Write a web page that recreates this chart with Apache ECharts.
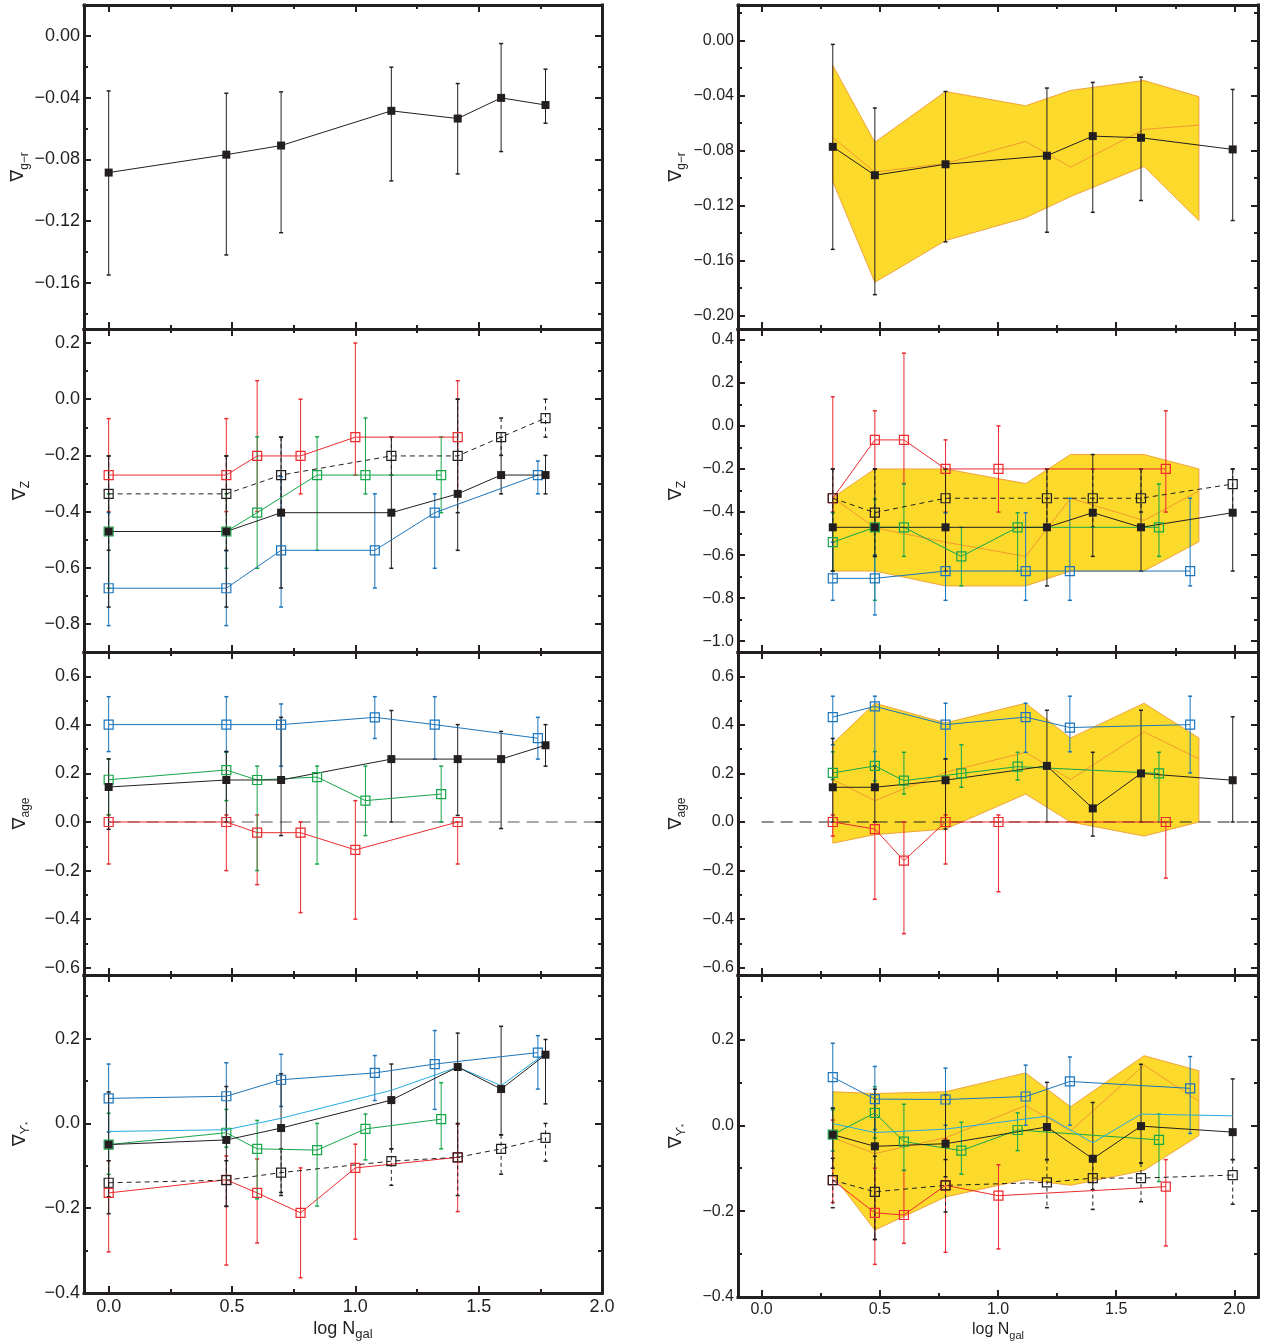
<!DOCTYPE html>
<html><head><meta charset="utf-8">
<script src="https://cdn.jsdelivr.net/npm/echarts@6/dist/echarts.min.js"></script>
<style>html,body{margin:0;padding:0;background:#fff}#c{width:1272px;height:1342px}</style>
</head><body><div id="c"></div>
<script>
// ---------------- DATA ----------------
// x positions (log N_gal)
const LX_BLK = [0, 0.477, 0.699, 1.146, 1.415, 1.591, 1.771];
const LX_RED = [0, 0.477, 0.602, 0.778, 1.0, 1.415];
const LX_GRN = [0, 0.477, 0.602, 0.845, 1.041, 1.348];
const LX_BLU = [0, 0.477, 0.699, 1.079, 1.322, 1.740];
const RX_BLK = [0.301, 0.479, 0.778, 1.207, 1.401, 1.605, 1.993];
const RX_RED = [0.301, 0.479, 0.602, 0.778, 1.002, 1.710];
const RX_GRN = [0.301, 0.479, 0.602, 0.845, 1.083, 1.681];
const RX_BLU = [0.301, 0.479, 0.778, 1.117, 1.304, 1.813];
const RX_BAND = [0.301, 0.479, 0.778, 1.117, 1.307, 1.618, 1.850];
const ZERO_LX = [0, 2.0];
const ZERO_RX = [0, 2.07];

// axis tick values
const X_MAJOR = [0, 0.5, 1.0, 1.5, 2.0];
const X_MINOR = [0.25, 0.75, 1.25, 1.75];
const L1_YMAJ = [0, -0.04, -0.08, -0.12, -0.16];
const R1_YMAJ = [0, -0.04, -0.08, -0.12, -0.16, -0.20];
const P1_YMIN = [0.02, -0.02, -0.06, -0.10, -0.14, -0.18];
const L2_YMAJ = [0.2, 0, -0.2, -0.4, -0.6, -0.8];
const L2_YMIN = [0.1, -0.1, -0.3, -0.5, -0.7];
const R2_YMAJ = [0.4, 0.2, 0, -0.2, -0.4, -0.6, -0.8, -1.0];
const R2_YMIN = [0.3, 0.1, -0.1, -0.3, -0.5, -0.7, -0.9];
const P3_YMAJ = [0.6, 0.4, 0.2, 0, -0.2, -0.4, -0.6];
const P3_YMIN = [0.5, 0.3, 0.1, -0.1, -0.3, -0.5];
const P4_YMAJ = [0.2, 0, -0.2, -0.4];
const P4_YMIN = [0.3, 0.1, -0.1, -0.3];

// ---- Left panel 1: grad g-r
const L1_BLK_Y  = [-0.0886, -0.077, -0.0711, -0.0486, -0.0536, -0.0402, -0.0448];
const L1_BLK_HI = [-0.0357, -0.0372, -0.0363, -0.0203, -0.0309, -0.005, -0.0216];
const L1_BLK_LO = [-0.155, -0.142, -0.1276, -0.094, -0.0895, -0.075, -0.0566];

// ---- Left panel 2: grad Z
const L2_RED_Y  = [-0.27, -0.27, -0.202, -0.202, -0.135, -0.135];
const L2_RED_HI = [-0.069, -0.069, 0.066, 0.0, 0.2, 0.066];
const L2_RED_LO = [-0.40, -0.40, -0.40, -0.337, -0.27, -0.337];
const L2_GRN_Y  = [-0.471, -0.471, -0.404, -0.27, -0.27, -0.27];
const L2_GRN_HI = [-0.337, -0.337, -0.134, -0.134, -0.067, -0.134];
const L2_GRN_LO = [-0.673, -0.602, -0.602, -0.538, -0.337, -0.404];
const L2_BLU_Y  = [-0.673, -0.673, -0.538, -0.538, -0.404, -0.27];
const L2_BLU_HI = [-0.404, -0.54, -0.276, -0.337, -0.337, -0.22];
const L2_BLU_LO = [-0.806, -0.806, -0.74, -0.672, -0.602, -0.337];
const L2_DSH_Y  = [-0.337, -0.337, -0.27, -0.202, -0.202, -0.135, -0.067];
const L2_DSH_HI = [-0.202, -0.202, -0.135, -0.135, 0.0, -0.067, 0.0];
const L2_DSH_LO = [-0.538, -0.538, -0.40, -0.27, -0.404, -0.2, -0.135];
const L2_BLK_Y  = [-0.471, -0.471, -0.404, -0.404, -0.337, -0.27, -0.27];
const L2_BLK_HI = [-0.202, -0.202, -0.135, -0.135, 0.0, -0.135, -0.2];
const L2_BLK_LO = [-0.74, -0.74, -0.672, -0.602, -0.538, -0.337, -0.337];

// ---- Left panel 3: grad age
const L3_BLU_Y  = [0.401, 0.401, 0.401, 0.431, 0.401, 0.345];
const L3_BLU_HI = [0.516, 0.516, 0.486, 0.516, 0.516, 0.431];
const L3_BLU_LO = [0.29, 0.29, 0.23, 0.344, 0.259, 0.259];
const L3_GRN_Y  = [0.174, 0.214, 0.173, 0.185, 0.088, 0.115];
const L3_GRN_HI = [0.259, 0.288, 0.23, 0.23, 0.23, 0.23];
const L3_GRN_LO = [0.03, 0.088, -0.2, -0.173, -0.056, 0.0];
const L3_RED_Y  = [0.0, 0.0, -0.044, -0.044, -0.115, 0.0];
const L3_RED_HI = [0.029, 0.029, 0.029, 0.0, 0.088, 0.0];
const L3_RED_LO = [-0.173, -0.2, -0.258, -0.373, -0.4, -0.173];
const L3_BLK_Y  = [0.144, 0.173, 0.173, 0.259, 0.259, 0.259, 0.316];
const L3_BLK_HI = [0.26, 0.29, 0.431, 0.459, 0.401, 0.373, 0.401];
const L3_BLK_LO = [-0.03, 0.0, -0.056, 0.0, 0.027, -0.027, 0.23];

// ---- Left panel 4: grad Upsilon
const L4_BLU_Y  = [0.059, 0.064, 0.103, 0.119, 0.14, 0.167];
const L4_BLU_HI = [0.14, 0.143, 0.163, 0.16, 0.219, 0.207];
const L4_BLU_LO = [-0.02, -0.015, 0.04, 0.054, 0.033, 0.081];
const L4_CYA_Y  = [-0.019, -0.015, 0.012, 0.078, 0.133, 0.089, 0.165];
const L4_GRN_Y  = [-0.05, -0.022, -0.06, -0.063, -0.013, 0.01];
const L4_GRN_HI = [0.024, 0.033, 0.007, 0.0, 0.022, 0.096];
const L4_GRN_LO = [-0.12, -0.056, -0.178, -0.195, -0.086, -0.06];
const L4_RED_Y  = [-0.164, -0.133, -0.164, -0.211, -0.105, -0.08];
const L4_RED_HI = [-0.088, -0.077, -0.084, -0.105, -0.049, -0.002];
const L4_RED_LO = [-0.303, -0.334, -0.282, -0.364, -0.273, -0.208];
const L4_DSH_Y  = [-0.14, -0.134, -0.116, -0.089, -0.08, -0.06, -0.034];
const L4_DSH_HI = [-0.088, -0.088, -0.06, -0.06, 0.0, -0.027, 0.0];
const L4_DSH_LO = [-0.173, -0.196, -0.17, -0.146, -0.17, -0.12, -0.089];
const L4_BLK_Y  = [-0.05, -0.039, -0.011, 0.055, 0.133, 0.081, 0.162];
const L4_BLK_HI = [0.074, 0.087, 0.117, 0.14, 0.213, 0.229, 0.198];
const L4_BLK_LO = [-0.213, -0.195, -0.163, -0.06, -0.08, -0.027, 0.046];

// ---- Right panel 1: grad g-r
const R1_BAND_HI  = [-0.018, -0.074, -0.037, -0.0474, -0.0362, -0.029, -0.0408];
const R1_BAND_LO  = [-0.1026, -0.176, -0.1456, -0.129, -0.1135, -0.0916, -0.131];
const R1_BAND_MID = [-0.0705, -0.0957, -0.0894, -0.0734, -0.0921, -0.0646, -0.0615];
const R1_BLK_Y  = [-0.0773, -0.098, -0.090, -0.0838, -0.0695, -0.0707, -0.0792];
const R1_BLK_HI = [-0.0027, -0.049, -0.037, -0.0345, -0.0304, -0.0265, -0.0355];
const R1_BLK_LO = [-0.152, -0.185, -0.1465, -0.1395, -0.125, -0.1164, -0.131];

// ---- Right panel 2: grad Z
const R2_BAND_HI  = [-0.333, -0.2, -0.2, -0.268, -0.133, -0.133, -0.2];
const R2_BAND_LO  = [-0.674, -0.674, -0.743, -0.743, -0.674, -0.674, -0.538];
const R2_BAND_MID = [-0.333, -0.473, -0.54, -0.606, -0.336, -0.439, -0.302];
const R2_RED_Y  = [-0.336, -0.065, -0.065, -0.2, -0.2, -0.2];
const R2_RED_HI = [0.135, 0.07, 0.338, -0.065, 0.0, 0.07];
const R2_RED_LO = [-0.40, -0.2, -0.268, -0.4, -0.4, -0.4];
const R2_GRN_Y  = [-0.54, -0.471, -0.471, -0.606, -0.471, -0.471];
const R2_GRN_HI = [-0.403, -0.34, -0.27, -0.471, -0.403, -0.27];
const R2_GRN_LO = [-0.674, -0.81, -0.606, -0.743, -0.674, -0.606];
const R2_BLU_Y  = [-0.708, -0.708, -0.674, -0.674, -0.674, -0.674];
const R2_BLU_HI = [-0.54, -0.6, -0.403, -0.403, -0.336, -0.336];
const R2_BLU_LO = [-0.81, -0.878, -0.81, -0.81, -0.81, -0.743];
const R2_DSH_Y  = [-0.336, -0.403, -0.336, -0.336, -0.336, -0.336, -0.27];
const R2_DSH_HI = [-0.2, -0.2, -0.2, -0.2, -0.2, -0.2, -0.2];
const R2_DSH_LO = [-0.47, -0.606, -0.47, -0.47, -0.47, -0.40, -0.403];
const R2_BLK_Y  = [-0.471, -0.471, -0.471, -0.471, -0.403, -0.471, -0.403];
const R2_BLK_HI = [-0.2, -0.2, -0.2, -0.2, -0.133, -0.2, -0.2];
const R2_BLK_LO = [-0.674, -0.606, -0.674, -0.743, -0.606, -0.674, -0.674];

// ---- Right panel 3: grad age
const R3_BAND_HI  = [0.323, 0.489, 0.408, 0.489, 0.346, 0.489, 0.346];
const R3_BAND_LO  = [-0.087, -0.052, -0.029, 0.115, 0.0, -0.058, 0.0];
const R3_BAND_MID = [0.175, 0.088, 0.205, 0.287, 0.175, 0.371, 0.26];
const R3_BLU_Y  = [0.432, 0.476, 0.401, 0.432, 0.389, 0.401];
const R3_BLU_HI = [0.518, 0.518, 0.489, 0.489, 0.518, 0.518];
const R3_BLU_LO = [0.318, 0.15, 0.26, 0.287, 0.289, 0.202];
const R3_GRN_Y  = [0.202, 0.231, 0.17, 0.2, 0.228, 0.2];
const R3_GRN_HI = [0.289, 0.29, 0.287, 0.318, 0.287, 0.287];
const R3_GRN_LO = [0.175, 0.17, 0.115, 0.143, 0.173, 0.0];
const R3_RED_Y  = [0.0, -0.029, -0.159, 0.0, 0.0, 0.0];
const R3_RED_HI = [0.029, 0.0, 0.0, 0.029, 0.029, 0.0];
const R3_RED_LO = [-0.058, -0.318, -0.46, -0.173, -0.287, -0.231];
const R3_BLK_Y  = [0.143, 0.143, 0.172, 0.231, 0.056, 0.2, 0.172];
const R3_BLK_HI = [0.344, 0.23, 0.26, 0.46, 0.287, 0.46, 0.433];
const R3_BLK_LO = [0.0, 0.0, -0.029, 0.0, -0.058, 0.0, 0.0];

// ---- Right panel 4: grad Upsilon
const R4_BAND_HI  = [0.078, 0.074, 0.078, 0.122, 0.043, 0.162, 0.127];
const R4_BAND_LO  = [-0.116, -0.244, -0.167, -0.126, -0.14, -0.105, -0.024];
const R4_BAND_MID = [-0.029, -0.066, -0.029, 0.046, -0.013, 0.14, 0.056];
const R4_CYA_Y  = [0.004, -0.017, -0.009, 0.021, -0.041, 0.026, 0.022];
const R4_BLU_Y  = [0.112, 0.061, 0.06, 0.067, 0.102, 0.086];
const R4_BLU_HI = [0.191, 0.137, 0.133, 0.14, 0.159, 0.16];
const R4_BLU_LO = [0.04, -0.01, 0.0, 0.0, 0.0, -0.019];
const R4_GRN_Y  = [-0.022, 0.029, -0.038, -0.059, -0.011, -0.034];
const R4_GRN_HI = [0.036, 0.09, 0.049, 0.007, 0.029, 0.026];
const R4_GRN_LO = [-0.06, -0.03, -0.105, -0.114, -0.059, -0.131];
const R4_RED_Y  = [-0.128, -0.204, -0.209, -0.14, -0.164, -0.143];
const R4_RED_HI = [0.012, -0.1, -0.105, -0.032, -0.092, -0.08];
const R4_RED_LO = [-0.18, -0.324, -0.275, -0.296, -0.288, -0.281];
const R4_DSH_Y  = [-0.128, -0.155, -0.14, -0.133, -0.123, -0.123, -0.116];
const R4_DSH_HI = [-0.077, -0.072, -0.08, -0.08, -0.08, -0.088, -0.08];
const R4_DSH_LO = [-0.192, -0.266, -0.202, -0.192, -0.196, -0.178, -0.184];
const R4_BLK_Y  = [-0.022, -0.049, -0.043, -0.004, -0.078, -0.002, -0.016];
const R4_BLK_HI = [0.04, 0.084, 0.071, 0.1, 0.053, 0.142, 0.108];
const R4_BLK_LO = [-0.1, -0.266, -0.12, -0.08, -0.15, -0.088, -0.08];

// titles
const T_GR = '{n|\u2207}{s|g\u2212r}';
const T_Z = '{n|\u2207}{s|Z}';
const T_AGE = '{n|\u2207}{s|age}';
const T_UPS = '{n|\u2207}{s|\u03D2}{t|*}';
const X_NAME = '{a|log N}{s|gal}';

// ---------------- STYLE / BUILD ----------------
const FONT = '"Liberation Sans", Arial, Helvetica, sans-serif';
const INK = '#231F20';
const RED = '#EC2A2F', GRN = '#16A64A', BLU = '#1B75BC', CYA = '#27AAE1';
const YEL = '#FBDA2C', EDGE = '#F2A33A', MID = '#F29A2E';

const grids = [], xAxes = [], yAxes = [], series = [];

function fmtY(d) { return v => (v < -1e-9 ? '\u2212' : '') + Math.abs(v).toFixed(d); }

function panel(p) {
  const g = grids.length;
  grids.push({ left: p.left, top: p.top, width: p.width, height: p.height });
  const xi = xAxes.length, yi = yAxes.length;
  const line = { show: true, onZero: false, lineStyle: { color: INK, width: 3, cap: 'square' } };
  const noLine = { show: false, onZero: false };
  const tick = (vals, len) => ({ show: true, inside: true, length: len, customValues: vals, lineStyle: { color: INK, width: 2 } });
  const noLab = { show: false };
  const xb = { type: 'value', gridIndex: g, min: p.xmin, max: p.xmax, splitLine: { show: false }, silent: true };
  xAxes.push(Object.assign({}, xb, {
    position: 'bottom', axisLine: line, axisTick: tick(X_MAJOR, 7),
    axisLabel: p.showX ? { show: true, customValues: X_MAJOR, formatter: v => v.toFixed(1), fontSize: p.fs, fontFamily: FONT, color: INK, margin: 5 } : noLab,
    name: p.showX ? X_NAME : '', nameLocation: 'middle', nameGap: p.xNameGap,
    nameTextStyle: { color: INK, rich: {
      a: { fontSize: p.fs, fontFamily: FONT, color: INK, lineHeight: p.fs + 6, verticalAlign: 'middle' },
      s: { fontSize: p.fs - 5, fontFamily: FONT, color: INK, verticalAlign: 'bottom' } } }
  }));
  xAxes.push(Object.assign({}, xb, { position: 'bottom', axisLine: noLine, axisTick: tick(X_MINOR, 4), axisLabel: noLab }));
  xAxes.push(Object.assign({}, xb, { position: 'top', axisLine: line, axisTick: tick(X_MAJOR, 7), axisLabel: noLab }));
  xAxes.push(Object.assign({}, xb, { position: 'top', axisLine: noLine, axisTick: tick(X_MINOR, 4), axisLabel: noLab }));
  const yb = { type: 'value', gridIndex: g, min: p.ymin, max: p.ymax, splitLine: { show: false }, silent: true };
  yAxes.push(Object.assign({}, yb, {
    position: 'left', axisLine: line, axisTick: tick(p.yMajor, 7),
    axisLabel: { show: true, customValues: p.yMajor, formatter: fmtY(p.dec), fontSize: p.fs, fontFamily: FONT, color: INK, margin: 4 },
    name: p.title, nameLocation: 'middle', nameRotate: 90, nameGap: p.yNameGap,
    nameTextStyle: { color: INK, rich: {
      n: { fontSize: 18, fontFamily: '"DejaVu Sans"', color: INK, lineHeight: 24, verticalAlign: 'middle' },
      s: { fontSize: 12, fontFamily: FONT, color: INK, verticalAlign: 'bottom' },
      t: { fontSize: 8, fontFamily: FONT, color: INK, verticalAlign: 'bottom' } } }
  }));
  yAxes.push(Object.assign({}, yb, { position: 'left', axisLine: noLine, axisTick: tick(p.yMinor, 4), axisLabel: noLab }));
  yAxes.push(Object.assign({}, yb, { position: 'right', axisLine: line, axisTick: tick(p.yMajor, 7), axisLabel: noLab }));
  yAxes.push(Object.assign({}, yb, { position: 'right', axisLine: noLine, axisTick: tick(p.yMinor, 4), axisLabel: noLab }));
  return { xi, yi };
}

function addErr(ax, xs, lo, hi, color, dashed) {
  series.push({
    type: 'custom', xAxisIndex: ax.xi, yAxisIndex: ax.yi, z: 3, silent: true, animation: false,
    itemStyle: { color: color },
    data: xs.map((x, i) => [x, lo[i], hi[i]]), encode: { x: 0, y: [1, 2] },
    renderItem: (params, api) => {
      const x = api.value(0);
      const a = api.coord([x, api.value(2)]), b = api.coord([x, api.value(1)]);
      const st = { stroke: color, lineWidth: 1 };
      if (dashed) st.lineDash = [4, 3];
      const cw = 2;
      const cap = { stroke: color, lineWidth: 1.5 };
      return { type: 'group', children: [
        { type: 'line', shape: { x1: a[0], y1: a[1], x2: b[0], y2: b[1] }, style: st },
        { type: 'line', shape: { x1: a[0] - cw, y1: a[1], x2: a[0] + cw, y2: a[1] }, style: cap },
        { type: 'line', shape: { x1: b[0] - cw, y1: b[1], x2: b[0] + cw, y2: b[1] }, style: cap }
      ] };
    }
  });
}

function addLine(ax, xs, ys, color, mode, dashed, z) {
  const s = {
    type: 'line', xAxisIndex: ax.xi, yAxisIndex: ax.yi, z: z || 4, silent: true, animation: false,
    data: xs.map((x, i) => [x, ys[i]]),
    lineStyle: { color: color, width: 1, type: dashed ? [5, 4] : 'solid', opacity: 1 },
    showSymbol: mode !== 'none', symbol: mode === 'none' ? 'none' : 'rect',
    symbolSize: mode === 'filled' ? 8 : 9
  };
  s.itemStyle = mode === 'filled' ? { color: color } : (mode === 'none' ? { color: color } : { color: 'rgba(255,255,255,0)', borderColor: color, borderWidth: 1.2 });
  series.push(s);
}

function addZero(ax, xs, color) {
  series.push({
    type: 'line', xAxisIndex: ax.xi, yAxisIndex: ax.yi, z: 2, silent: true, animation: false,
    data: xs.map(x => [x, 0]), symbol: 'none',
    lineStyle: { color: color, width: 1.2, type: [12, 7] }
  });
}

function addBand(ax, xs, lo, hi, mid) {
  series.push({
    type: 'custom', xAxisIndex: ax.xi, yAxisIndex: ax.yi, z: 1, silent: true, animation: false,
    itemStyle: { color: YEL },
    data: xs.map((x, i) => [x, lo[i], hi[i]]), encode: { x: 0, y: [1, 2] },
    renderItem: (params, api) => {
      if (params.dataIndex !== 0) return null;
      const top = xs.map((x, i) => api.coord([x, hi[i]]));
      const bot = xs.map((x, i) => api.coord([x, lo[i]])).reverse();
      return { type: 'polygon', shape: { points: top.concat(bot) }, style: { fill: YEL, stroke: EDGE, lineWidth: 1 } };
    }
  });
  addLine(ax, xs, mid, MID, 'none', false, 1.5);
}

const COLS = [
  { left: 84, width: 518, xmin: -0.1, xmax: 2.0, fs: 18, yNameGap: 52, xNameGap: 24 },
  { left: 738, width: 520, xmin: -0.1, xmax: 2.1, fs: 16, yNameGap: 50, xNameGap: 22 }
];
const ROWS = [ { top: 5, height: 324 }, { top: 329, height: 323 }, { top: 652, height: 323 }, { top: 975, height: 323 } ];
function P(c, r, ymin, ymax, yMajor, yMinor, dec, title) {
  return panel(Object.assign({}, COLS[c], ROWS[r], { ymin, ymax, yMajor, yMinor, dec, title, showX: r === 3 }));
}

// Left column
const aL1 = P(0, 0, -0.19, 0.02, L1_YMAJ, P1_YMIN, 2, T_GR);
addErr(aL1, LX_BLK, L1_BLK_LO, L1_BLK_HI, INK, false);
addLine(aL1, LX_BLK, L1_BLK_Y, INK, 'filled', false);

const aL2 = P(0, 1, -0.9, 0.25, L2_YMAJ, L2_YMIN, 1, T_Z);
addErr(aL2, LX_RED, L2_RED_LO, L2_RED_HI, RED, false);
addErr(aL2, LX_GRN, L2_GRN_LO, L2_GRN_HI, GRN, false);
addErr(aL2, LX_BLU, L2_BLU_LO, L2_BLU_HI, BLU, false);
addErr(aL2, LX_BLK, L2_DSH_LO, L2_DSH_HI, INK, true);
addErr(aL2, LX_BLK, L2_BLK_LO, L2_BLK_HI, INK, false);
addLine(aL2, LX_RED, L2_RED_Y, RED, 'open', false);
addLine(aL2, LX_GRN, L2_GRN_Y, GRN, 'open', false);
addLine(aL2, LX_BLU, L2_BLU_Y, BLU, 'open', false);
addLine(aL2, LX_BLK, L2_DSH_Y, INK, 'open', true);
addLine(aL2, LX_BLK, L2_BLK_Y, INK, 'filled', false);

const aL3 = P(0, 2, -0.63, 0.7, P3_YMAJ, P3_YMIN, 1, T_AGE);
addZero(aL3, ZERO_LX, '#555555');
addErr(aL3, LX_RED, L3_RED_LO, L3_RED_HI, RED, false);
addErr(aL3, LX_GRN, L3_GRN_LO, L3_GRN_HI, GRN, false);
addErr(aL3, LX_BLU, L3_BLU_LO, L3_BLU_HI, BLU, false);
addErr(aL3, LX_BLK, L3_BLK_LO, L3_BLK_HI, INK, false);
addLine(aL3, LX_RED, L3_RED_Y, RED, 'open', false);
addLine(aL3, LX_GRN, L3_GRN_Y, GRN, 'open', false);
addLine(aL3, LX_BLU, L3_BLU_Y, BLU, 'open', false);
addLine(aL3, LX_BLK, L3_BLK_Y, INK, 'filled', false);

const aL4 = P(0, 3, -0.4, 0.35, P4_YMAJ, P4_YMIN, 1, T_UPS);
addErr(aL4, LX_RED, L4_RED_LO, L4_RED_HI, RED, false);
addErr(aL4, LX_GRN, L4_GRN_LO, L4_GRN_HI, GRN, false);
addErr(aL4, LX_BLU, L4_BLU_LO, L4_BLU_HI, BLU, false);
addErr(aL4, LX_BLK, L4_DSH_LO, L4_DSH_HI, INK, true);
addErr(aL4, LX_BLK, L4_BLK_LO, L4_BLK_HI, INK, false);
addLine(aL4, LX_RED, L4_RED_Y, RED, 'open', false);
addLine(aL4, LX_GRN, L4_GRN_Y, GRN, 'open', false);
addLine(aL4, LX_BLK, L4_CYA_Y, CYA, 'none', false);
addLine(aL4, LX_BLU, L4_BLU_Y, BLU, 'open', false);
addLine(aL4, LX_BLK, L4_DSH_Y, INK, 'open', true);
addLine(aL4, LX_BLK, L4_BLK_Y, INK, 'filled', false);

// Right column
const aR1 = P(1, 0, -0.21, 0.026, R1_YMAJ, P1_YMIN, 2, T_GR);
addBand(aR1, RX_BAND, R1_BAND_LO, R1_BAND_HI, R1_BAND_MID);
addErr(aR1, RX_BLK, R1_BLK_LO, R1_BLK_HI, INK, false);
addLine(aR1, RX_BLK, R1_BLK_Y, INK, 'filled', false);

const aR2 = P(1, 1, -1.05, 0.45, R2_YMAJ, R2_YMIN, 1, T_Z);
addBand(aR2, RX_BAND, R2_BAND_LO, R2_BAND_HI, R2_BAND_MID);
addErr(aR2, RX_RED, R2_RED_LO, R2_RED_HI, RED, false);
addErr(aR2, RX_GRN, R2_GRN_LO, R2_GRN_HI, GRN, false);
addErr(aR2, RX_BLU, R2_BLU_LO, R2_BLU_HI, BLU, false);
addErr(aR2, RX_BLK, R2_DSH_LO, R2_DSH_HI, INK, true);
addErr(aR2, RX_BLK, R2_BLK_LO, R2_BLK_HI, INK, false);
addLine(aR2, RX_RED, R2_RED_Y, RED, 'open', false);
addLine(aR2, RX_GRN, R2_GRN_Y, GRN, 'open', false);
addLine(aR2, RX_BLU, R2_BLU_Y, BLU, 'open', false);
addLine(aR2, RX_BLK, R2_DSH_Y, INK, 'open', true);
addLine(aR2, RX_BLK, R2_BLK_Y, INK, 'filled', false);

const aR3 = P(1, 2, -0.63, 0.7, P3_YMAJ, P3_YMIN, 1, T_AGE);
addBand(aR3, RX_BAND, R3_BAND_LO, R3_BAND_HI, R3_BAND_MID);
addZero(aR3, ZERO_RX, INK);
addErr(aR3, RX_RED, R3_RED_LO, R3_RED_HI, RED, false);
addErr(aR3, RX_GRN, R3_GRN_LO, R3_GRN_HI, GRN, false);
addErr(aR3, RX_BLU, R3_BLU_LO, R3_BLU_HI, BLU, false);
addErr(aR3, RX_BLK, R3_BLK_LO, R3_BLK_HI, INK, false);
addLine(aR3, RX_RED, R3_RED_Y, RED, 'open', false);
addLine(aR3, RX_GRN, R3_GRN_Y, GRN, 'open', false);
addLine(aR3, RX_BLU, R3_BLU_Y, BLU, 'open', false);
addLine(aR3, RX_BLK, R3_BLK_Y, INK, 'filled', false);

const aR4 = P(1, 3, -0.4, 0.35, P4_YMAJ, P4_YMIN, 1, T_UPS);
addBand(aR4, RX_BAND, R4_BAND_LO, R4_BAND_HI, R4_BAND_MID);
addErr(aR4, RX_RED, R4_RED_LO, R4_RED_HI, RED, false);
addErr(aR4, RX_GRN, R4_GRN_LO, R4_GRN_HI, GRN, false);
addErr(aR4, RX_BLU, R4_BLU_LO, R4_BLU_HI, BLU, false);
addErr(aR4, RX_BLK, R4_DSH_LO, R4_DSH_HI, INK, true);
addErr(aR4, RX_BLK, R4_BLK_LO, R4_BLK_HI, INK, false);
addLine(aR4, RX_RED, R4_RED_Y, RED, 'open', false);
addLine(aR4, RX_GRN, R4_GRN_Y, GRN, 'open', false);
addLine(aR4, RX_BLK, R4_CYA_Y, CYA, 'none', false);
addLine(aR4, RX_BLU, R4_BLU_Y, BLU, 'open', false);
addLine(aR4, RX_BLK, R4_DSH_Y, INK, 'open', true);
addLine(aR4, RX_BLK, R4_BLK_Y, INK, 'filled', false);

const chart = echarts.init(document.getElementById('c'), null, { renderer: 'canvas' });
chart.setOption({
  backgroundColor: '#ffffff',
  animation: false,
  textStyle: { fontFamily: FONT },
  grid: grids, xAxis: xAxes, yAxis: yAxes, series: series
});
</script></body></html>
